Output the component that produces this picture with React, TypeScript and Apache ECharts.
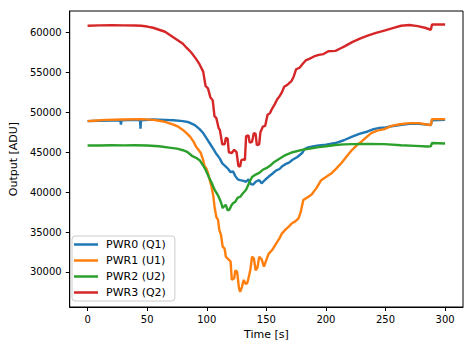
import React, { useEffect, useRef } from "react";
import * as echarts from "echarts";

const seriesNames = ["PWR0 (Q1)", "PWR1 (U1)", "PWR2 (U2)", "PWR3 (Q2)"];
const colors = ["#1f77b4", "#ff7f0e", "#2ca02c", "#d62728"];

const xTicks = [0, 50, 100, 150, 200, 250, 300];
const yTicks = [30000, 35000, 40000, 45000, 50000, 55000, 60000];

const t0 = [0, 10, 20, 27.5, 28, 28.5, 40, 44, 44.4, 44.8, 55, 65, 72, 80, 85, 90, 94, 97, 100, 103, 106, 108, 111, 113, 116, 118, 120, 122, 124, 126, 128, 131, 133, 135, 137, 139, 141, 144, 146, 149, 152, 155, 158, 161, 163, 166, 169, 172, 176, 180, 182, 185, 190, 194, 200, 208, 215, 222, 228, 235, 240, 245, 250, 255, 262, 270, 278, 286, 288, 289, 300];
const v0 = [48900, 48950, 48980, 49000, 48450, 49000, 49050, 49000, 47950, 49000, 49100, 49050, 49000, 48900, 48750, 48400, 47900, 47400, 46700, 46000, 45300, 44800, 44200, 43600, 43200, 42900, 42500, 42600, 42000, 41600, 41500, 41400, 41300, 41600, 41000, 40950, 41300, 41500, 41100, 41550, 41950, 42300, 42700, 42900, 43200, 43500, 43700, 44050, 44400, 44900, 45400, 45600, 45750, 45850, 45950, 46150, 46500, 46950, 47300, 47600, 47900, 48050, 48100, 48250, 48400, 48550, 48550, 48450, 48400, 49000, 49050];

const t1 = [0, 5, 15, 30, 45, 55, 60, 65, 72, 76, 80, 83, 86, 89, 91, 93, 95, 97, 98, 99.5, 101, 103, 104, 105.5, 106.5, 108, 109.5, 110.5, 112, 113.3, 115, 116, 118, 120, 121, 123, 124, 125.5, 127, 128, 129.5, 131, 132.5, 134, 135, 136.5, 138, 139.5, 141, 142.5, 144, 146, 148, 150, 152, 155, 158, 161, 163, 166, 169, 171.5, 174, 177, 179, 181, 185, 188, 192, 196, 200, 205, 209, 213, 218, 222, 226, 230, 234, 238, 243, 249, 255, 262, 270, 278, 286, 288, 289, 300];
const v1 = [48900, 48950, 49050, 49100, 49150, 49050, 48950, 48800, 48450, 48200, 47800, 47400, 46950, 46300, 45700, 45300, 44900, 44000, 43300, 43000, 42400, 41200, 40700, 39500, 38200, 36900, 36500, 35300, 34600, 33200, 32900, 31900, 31600, 31300, 29000, 29200, 30200, 30000, 28000, 27500, 28100, 29000, 28500, 28600, 29200, 30200, 31900, 31700, 30200, 30500, 31900, 31600, 30650, 31500, 32300, 32750, 33500, 34200, 34800, 35300, 35700, 36100, 36300, 36700, 37600, 39000, 39400, 39700, 40500, 41500, 41900, 42400, 43000, 43650, 44600, 45300, 45900, 46350, 46900, 47400, 47700, 47900, 48300, 48500, 48650, 48650, 48450, 48400, 49150, 49150];

const t2 = [0, 10, 20, 30, 40, 50, 60, 70, 75, 80, 84, 88, 91, 94, 96.7, 99, 102, 104, 106.5, 109, 110.6, 112, 113.3, 115, 116, 117.5, 119, 120.5, 122, 124, 126, 128, 130, 133, 136, 138, 141, 144, 147, 150, 153, 156, 160, 166, 172, 180, 188, 194, 200, 208, 215, 222, 235, 249, 263, 275, 285, 288, 289, 300];
const v2 = [45850, 45850, 45870, 45860, 45880, 45850, 45750, 45550, 45450, 45250, 45000, 44500, 44300, 44000, 43400, 42800, 41800, 41200, 40300, 39700, 39200, 38700, 38000, 38300, 38400, 37700, 37800, 38300, 38600, 38800, 39300, 39400, 39800, 40300, 41300, 41900, 42200, 42400, 42800, 43000, 43300, 43700, 44100, 44650, 45000, 45300, 45500, 45640, 45750, 45900, 45980, 46020, 46050, 46020, 45880, 45800, 45720, 45750, 46150, 46100];

const t3 = [0, 10, 20, 30, 40, 45, 50, 55, 60, 65, 70, 75, 80, 83, 87, 91, 94, 97, 99, 101, 103, 105, 106.5, 108, 110, 111, 113, 115, 116, 117.5, 118.5, 121, 123, 125, 126.5, 128, 129, 131, 132, 133, 135, 136, 138, 139.5, 141, 142, 144, 145, 147, 149, 151, 153, 155, 157, 159, 161, 163, 165, 168, 171, 173, 175, 178, 180, 183, 186, 190, 194, 198, 202, 208, 212, 216, 222, 228, 235, 242, 249, 256, 263, 270, 277, 283, 288, 289, 300];
const v3 = [60850, 60900, 60920, 60900, 60880, 60850, 60750, 60600, 60350, 60100, 59600, 59100, 58600, 58100, 57500, 56700, 56000, 55100, 53300, 53000, 51900, 51500, 49500, 49300, 48000, 47800, 46000, 46000, 46800, 46700, 45000, 44900, 45300, 45000, 43300, 43200, 44000, 44100, 44000, 47000, 47100, 46200, 46300, 47400, 47300, 45900, 46000, 47500, 48200, 48300, 49700, 49900, 50500, 51000, 51600, 52000, 52500, 53200, 53500, 53900, 54500, 55400, 55600, 56000, 56500, 56700, 57000, 57200, 57300, 57650, 57700, 58000, 58300, 58800, 59200, 59600, 59950, 60250, 60550, 60850, 60950, 60800, 60600, 60350, 61000, 61000];

const times = [t0, t1, t2, t3];
const values = [v0, v1, v2, v3];

const FONT = "DejaVu Sans";

export default function App() {
  const ref = useRef<HTMLDivElement>(null);
  useEffect(() => {
    if (!ref.current) return;
    const chart = echarts.init(ref.current, null, { renderer: "svg" });
    chart.setOption({
      animation: false,
      backgroundColor: "#fff",
      textStyle: { fontFamily: FONT },
      grid: {
        left: 65,
        right: 10,
        top: 11,
        bottom: 40,
        show: true,
        borderColor: "#000",
        borderWidth: 1,
        backgroundColor: "transparent",
      },
      legend: {
        orient: "vertical",
        left: 72,
        top: 236,
        data: seriesNames,
        icon: "rect",
        itemWidth: 24,
        itemHeight: 2.5,
        itemGap: 3,
        padding: [2, 9, 2, 2],
        backgroundColor: "rgba(255,255,255,0.8)",
        borderColor: "#cccccc",
        borderWidth: 1,
        borderRadius: 3,
        textStyle: { fontFamily: FONT, fontSize: 11, color: "#000", lineHeight: 13, padding: [0, 0, 0, 3] },
      },
      xAxis: {
        type: "value",
        min: -15,
        max: 315,
        name: "Time [s]",
        nameLocation: "middle",
        nameGap: 20,
        nameTextStyle: { fontFamily: FONT, fontSize: 11, color: "#000" },
        axisLine: { show: true, onZero: false, lineStyle: { color: "#000", width: 1 } },
        axisTick: { show: true, customValues: xTicks, length: 4, lineStyle: { color: "#000" } },
        axisLabel: { customValues: xTicks, fontFamily: FONT, fontSize: 10, color: "#000", margin: 7 },
        splitLine: { show: false },
      },
      yAxis: {
        type: "value",
        min: 25600,
        max: 62700,
        name: "Output [ADU]",
        nameLocation: "middle",
        nameGap: 47,
        nameRotate: 90,
        nameTextStyle: { fontFamily: FONT, fontSize: 11, color: "#000" },
        axisLine: { show: true, onZero: false, lineStyle: { color: "#000", width: 1 } },
        axisTick: { show: true, customValues: yTicks, length: 4, lineStyle: { color: "#000" } },
        axisLabel: {
          customValues: yTicks,
          fontFamily: FONT,
          fontSize: 10,
          color: "#000",
          margin: 8,
          formatter: (v: number) => String(v),
        },
        splitLine: { show: false },
      },
      series: seriesNames.map((name, i) => ({
        name,
        type: "line",
        data: times[i].map((t, j) => [t, values[i][j]]),
        showSymbol: false,
        symbol: "none",
        lineStyle: { color: colors[i], width: 2.4 },
        itemStyle: { color: colors[i] },
        z: 2 + i,
      })),
    });
    return () => chart.dispose();
  }, []);
  return (
    <div
      ref={ref}
      style={{ position: "fixed", left: 0, top: 0, width: 473, height: 347 }}
    />
  );
}
